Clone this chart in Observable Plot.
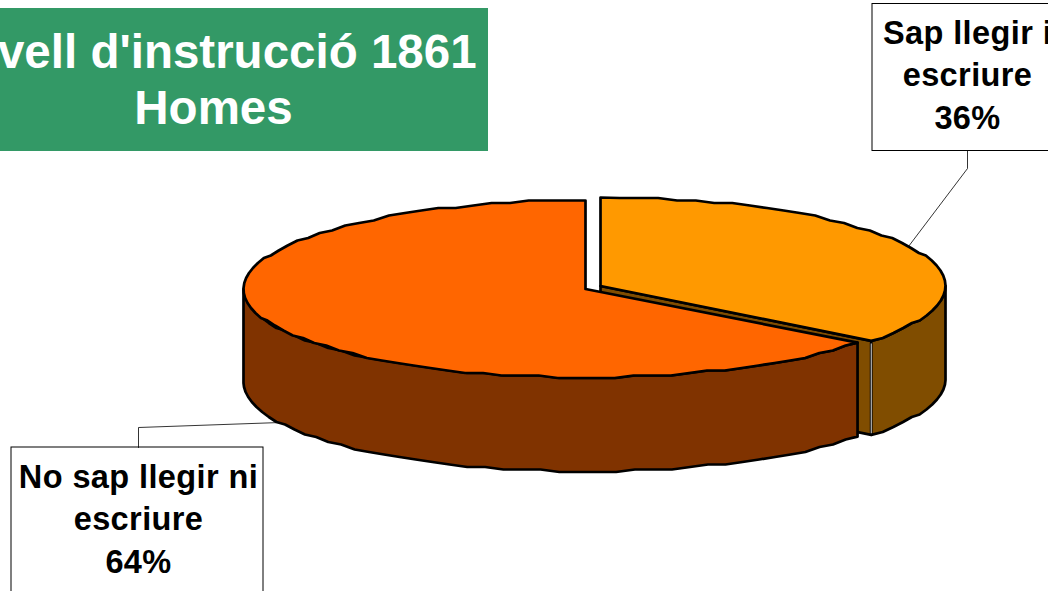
<!DOCTYPE html>
<html><head><meta charset="utf-8">
<script src="https://cdn.jsdelivr.net/npm/d3@7"></script>
<script src="https://cdn.jsdelivr.net/npm/@observablehq/plot@0.6"></script>
<style>html,body{margin:0;padding:0;background:#fff;overflow:hidden}svg{display:block}
.pie-label text{letter-spacing:0.4px}</style>
</head><body><div id="chart"></div>
<script>
const shares = [36, 64];
const sliceNames = ["Sap llegir i escriure", "No sap llegir ni escriure"];
const titleLines = ["Nivell d'instrucció 1861", "Homes"];
const labelLines36 = ["Sap llegir i", "escriure", "36%"];
const labelLines64 = ["No sap llegir ni", "escriure", "64%"];
const topColors = ["#FF9900", "#FF6600"];
const wallColors = ["#804D00", "#803300"];

const W = 1048, H = 591, depth = 94;
const yellow = {cx: 600, cy: 285.5, rx: 345, ry: 88.5, skew: -1.3};
const orange = {cx: 585, cy: 288.5, rx: 342, ry: 88.5, skew: -2.3};
const grid = 2.5;
const pt = (g, deg, dz = 0, snap = false) => {
  const a = deg * Math.PI / 180;
  const x = g.cx + g.rx * Math.sin(a), y = g.cy - g.ry * Math.cos(a);
  // the source drew its rim on a coarse device grid: keep that stepped edge
  return {x, y: (snap ? Math.round(y / grid) * grid : y) + dz};
};
const arc = (g, a0, a1, dz = 0, step = 3.2) => {
  const n = Math.max(1, Math.round(Math.abs(a1 - a0) / step));
  return d3.range(n + 1).map(i => pt(g, a0 + (a1 - a0) * i / n, dz, i > 0 && i < n));
};
const split = shares[0] * 3.6;
const yEnd = split + yellow.skew, oStart = split + orange.skew;
const apexY = {x: yellow.cx, y: yellow.cy}, apexO = {x: orange.cx, y: orange.cy};

const yellowTop = [apexY, ...arc(yellow, 0, yEnd), apexY];
const yellowInner = [apexY, pt(yellow, yEnd), pt(yellow, yEnd, depth), {x: yellow.cx, y: yellow.cy + depth}, apexY];
const yellowOuter = [...arc(yellow, 90, yEnd), ...arc(yellow, yEnd, 90, depth)];
yellowOuter.push(yellowOuter[0]);
const orangeTop = [apexO, ...arc(orange, oStart, 360), apexO];
const orangeOuter = [...arc(orange, oStart, 270), ...arc(orange, 270, oStart, depth)];
orangeOuter.push(orangeOuter[0]);
const seam = [pt(yellow, yEnd, 3), pt(yellow, yEnd, depth - 2)];

const poly = (pts, fill) => Plot.line(pts, {x: "x", y: "y", fill, stroke: "#000", strokeWidth: 2.7, curve: "linear", strokeLinejoin: "round"});
const textLines = (lines, x, y0, dy, size, fill, className) => Plot.text(lines, {
  x: () => x, y: (d, i) => y0 + i * dy, text: d => d, fontSize: size, fontWeight: "bold",
  fontFamily: "Liberation Sans, Arial, sans-serif", fill, textAnchor: "middle", lineAnchor: "middle", className});
const wire = (pts) => Plot.line(pts, {x: "x", y: "y", stroke: "#000", strokeWidth: 0.8, curve: "linear"});
const box = (x1, y1, x2, y2, fill, stroke) => Plot.rect([{x1, y1, x2, y2}], {x1: "x1", y1: "y1", x2: "x2", y2: "y2", fill, stroke, strokeWidth: stroke === "none" ? 0 : 1});

const chart = Plot.plot({
  width: W, height: H, margin: 0,
  x: {domain: [0, W], range: [0, W], axis: null},
  y: {domain: [0, H], range: [0, H], axis: null},
  style: {background: "#fff"},
  marks: [
    box(-5, 8, 488, 151, "#339966", "none"),
    textLines(titleLines, 213, 52, 56, 47.5, "#fff"),
    box(872, 3.5, 1060, 150.5, "#fff", "#000"),
    textLines(labelLines36, 967, 33, 42.5, 32.5, "#000", "pie-label"),
    box(11, 447, 263, 600, "#fff", "#000"),
    textLines(labelLines64, 138, 477, 42.5, 32.5, "#000", "pie-label"),
    wire([{x: 967, y: 150}, {x: 967, y: 168}, {x: 908, y: 246}]),
    wire([{x: 138, y: 447}, {x: 138, y: 427}, {x: 280, y: 422}]),
    poly(yellowInner, wallColors[0]),
    poly(yellowOuter, wallColors[0]),
    Plot.line(seam, {x: "x", y: "y", stroke: "#ddd", strokeWidth: 1}),
    poly(yellowTop, topColors[0]),
    poly(orangeOuter, wallColors[1]),
    poly(orangeTop, topColors[1])
  ]
});
document.getElementById("chart").append(chart);
</script></body></html>
